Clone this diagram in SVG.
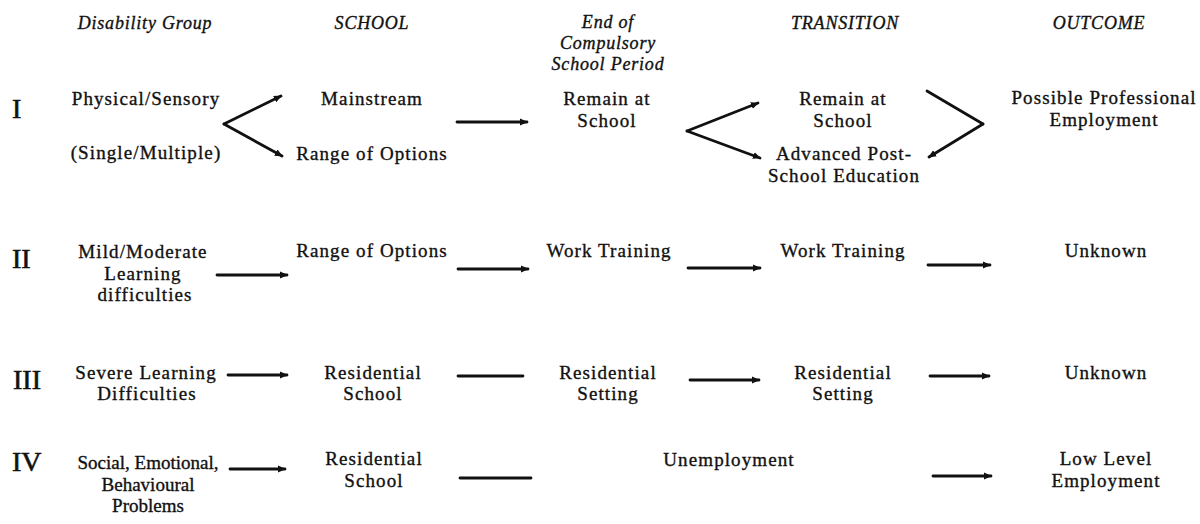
<svg xmlns="http://www.w3.org/2000/svg" width="1200" height="524" viewBox="0 0 1200 524">
<style>
text{font-family:"Liberation Serif","Times New Roman",serif;fill:#111;stroke:#111;stroke-width:0.35px;}
.h{font-size:18px;font-style:italic;text-anchor:middle;letter-spacing:0.8px;}
.t{font-size:19px;text-anchor:middle;letter-spacing:1.1px;}
.n{letter-spacing:0px;}
.r{font-size:28px;stroke-width:0.6px;}
.c{stroke:#111;stroke-width:2.8;fill:none;stroke-linecap:round;}
.a{marker-end:url(#ah);}
</style>
<defs>
<marker id="ah" markerUnits="userSpaceOnUse" markerWidth="9" markerHeight="8" refX="7" refY="4" orient="auto">
<path d="M0,0.5 L8,4 L0,7.5 z" fill="#111"/>
</marker>
</defs>
<rect width="1200" height="524" fill="#fff"/>
<g id="headers">
<text class="h" x="145" y="29">Disability Group</text>
<text class="h" x="372" y="29">SCHOOL</text>
<text class="h" x="608" y="28">End of</text>
<text class="h" x="608" y="49">Compulsory</text>
<text class="h" x="608" y="70">School Period</text>
<text class="h" x="845" y="29">TRANSITION</text>
<text class="h" x="1099" y="29">OUTCOME</text>
</g>
<g id="numerals">
<text class="r" x="12" y="118">I</text>
<text class="r" x="12" y="268">II</text>
<text class="r" x="13" y="389">III</text>
<text class="r" x="12" y="471">IV</text>
</g>
<g id="r1-group"><text class="t" x="146" y="105">Physical/Sensory</text><text class="t" x="146" y="159">(Single/Multiple)</text></g>
<g id="r1-mainstream"><text class="t" x="372" y="105">Mainstream</text></g>
<g id="r1-range"><text class="t" x="372" y="160">Range of Options</text></g>
<g id="r1-remain"><text class="t" x="607" y="105">Remain at</text><text class="t" x="607" y="127">School</text></g>
<g id="r1-t-remain"><text class="t" x="843" y="105">Remain at</text><text class="t" x="843" y="127">School</text></g>
<g id="r1-t-advanced"><text class="t" x="844" y="160">Advanced Post-</text><text class="t" x="844" y="182">School Education</text></g>
<g id="r1-outcome"><text class="t" x="1104" y="104">Possible Professional</text><text class="t" x="1104" y="126">Employment</text></g>

<g id="r2-group"><text class="t" x="143" y="258">Mild/Moderate</text><text class="t" x="143" y="280">Learning</text><text class="t" x="145" y="301">difficulties</text></g>
<g id="r2-school"><text class="t" x="372" y="257">Range of Options</text></g>
<g id="r2-end"><text class="t" x="609" y="257">Work Training</text></g>
<g id="r2-transition"><text class="t" x="843" y="257">Work Training</text></g>
<g id="r2-outcome"><text class="t" x="1106" y="257">Unknown</text></g>

<g id="r3-group"><text class="t" x="146" y="379">Severe Learning</text><text class="t" x="147" y="400">Difficulties</text></g>
<g id="r3-school"><text class="t" x="373" y="379">Residential</text><text class="t" x="373" y="400">School</text></g>
<g id="r3-end"><text class="t" x="608" y="379">Residential</text><text class="t" x="608" y="400">Setting</text></g>
<g id="r3-transition"><text class="t" x="843" y="379">Residential</text><text class="t" x="843" y="400">Setting</text></g>
<g id="r3-outcome"><text class="t" x="1106" y="379">Unknown</text></g>

<g id="r4-group"><text class="t n" x="148" y="469">Social, Emotional,</text><text class="t n" x="148" y="491">Behavioural</text><text class="t n" x="148" y="512">Problems</text></g>
<g id="r4-school"><text class="t" x="374" y="465">Residential</text><text class="t" x="374" y="487">School</text></g>
<g id="r4-unemployment"><text class="t" x="729" y="466">Unemployment</text></g>
<g id="r4-outcome"><text class="t" x="1106" y="465">Low Level</text><text class="t" x="1106" y="487">Employment</text></g>

<g id="connectors">
<line class="c a" x1="224" y1="124" x2="281" y2="96"/>
<line class="c a" x1="224" y1="124" x2="282" y2="156"/>
<line class="c a" x1="457" y1="122" x2="527" y2="122"/>
<line class="c a" x1="687" y1="131" x2="758" y2="103"/>
<line class="c a" x1="687" y1="131" x2="760" y2="158"/>
<line class="c" x1="927" y1="91" x2="983" y2="124"/>
<line class="c a" x1="983" y1="124" x2="929" y2="157"/>

<line class="c a" x1="217" y1="275" x2="287" y2="275"/>
<line class="c a" x1="458" y1="269" x2="528" y2="269"/>
<line class="c a" x1="688" y1="268" x2="760" y2="268"/>
<line class="c a" x1="928" y1="265" x2="990" y2="265"/>

<line class="c a" x1="228" y1="375" x2="287" y2="375"/>
<line class="c" x1="458" y1="376" x2="523" y2="376"/>
<line class="c a" x1="690" y1="380" x2="759" y2="380"/>
<line class="c a" x1="930" y1="376" x2="989" y2="376"/>

<line class="c a" x1="230" y1="469" x2="285" y2="469"/>
<line class="c" x1="460" y1="478" x2="531" y2="478"/>
<line class="c a" x1="933" y1="476" x2="991" y2="476"/>
</g>
</svg>
